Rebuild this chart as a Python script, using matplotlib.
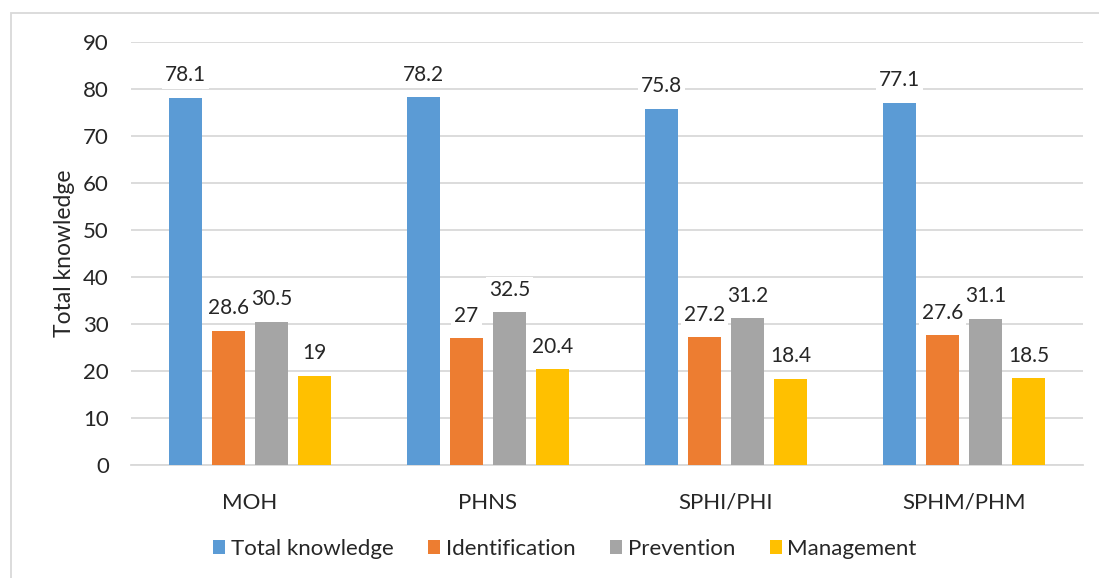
import matplotlib
matplotlib.use("Agg")
import matplotlib.pyplot as plt
import numpy as np
from matplotlib.patches import Rectangle

categories = ["MOH", "PHNS", "SPHI/PHI", "SPHM/PHM"]
series_names = ["Total knowledge", "Identification", "Prevention", "Management"]
total_knowledge = [78.1, 78.2, 75.8, 77.1]
identification = [28.6, 27, 27.2, 27.6]
prevention = [30.5, 32.5, 31.2, 31.1]
management = [19, 20.4, 18.4, 18.5]
colors = ["#5B9BD5", "#ED7D31", "#A5A5A5", "#FFC000"]
yticks = [0, 10, 20, 30, 40, 50, 60, 70, 80, 90]

plt.rcParams['font.family'] = ['Lato', 'DejaVu Sans']

fig = plt.figure(figsize=(10.99, 5.78), dpi=100)
ax = fig.add_axes([131/1099, 1-465/578, (1083-131)/1099, (465-42)/578])

x = np.arange(len(categories))
width = 0.139
step = 0.181
all_series = [total_knowledge, identification, prevention, management]
for i, (vals, name, c) in enumerate(zip(all_series, series_names, colors)):
    pos = x + (i - 1.5) * step
    bars = ax.bar(pos, vals, width, color=c, label=name, zorder=3)
    for b, v in zip(bars, vals):
        ax.annotate(f"{v:g}", (b.get_x() + b.get_width()/2, v),
                    xytext=(0, 9), textcoords="offset points",
                    ha="center", va="bottom", fontsize=15, color="#262626",
                    bbox=dict(boxstyle="square,pad=0.15", fc="white", ec="none"),
                    zorder=4)

ax.set_xlim(-0.5, len(categories) - 0.5)
ax.set_ylim(0, 90)
ax.set_yticks(yticks)
ax.set_xticks(x)
ax.set_xticklabels(categories, fontsize=16)
ax.tick_params(axis='both', length=0, colors="#262626")
ax.tick_params(axis='y', labelsize=16, pad=16)
ax.tick_params(axis='x', pad=20)
ax.grid(axis='y', color="#D9D9D9", linewidth=1.3, zorder=0)
for s in ["top", "right", "left"]:
    ax.spines[s].set_visible(False)
ax.spines["bottom"].set_color("#D9D9D9")
ax.spines["bottom"].set_linewidth(1.3)
ax.set_ylabel("Total knowledge", fontsize=16.5, color="#262626")
ax.yaxis.set_label_coords((75 - 131) / 952, 0.5)

fig.legend(loc="center", bbox_to_anchor=(565/1099, 1-549/578), ncol=4,
           frameon=False, fontsize=16, handlelength=0.55, handleheight=0.55,
           handletextpad=0.25, columnspacing=1.55, labelcolor="#262626")

fig.patches.append(Rectangle((11/1099, -0.1), 1.2, 1-13/578 + 0.1,
                             transform=fig.transFigure, fill=False,
                             ec="#D9D9D9", lw=1.3))

fig.savefig("out.png", dpi=100)
